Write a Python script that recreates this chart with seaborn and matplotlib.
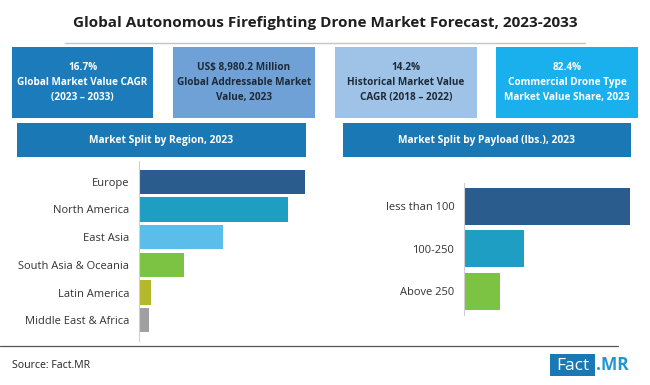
import matplotlib
matplotlib.use("Agg")
import matplotlib.pyplot as plt
import seaborn as sns
import pandas as pd
from matplotlib.patches import Rectangle
from matplotlib.lines import Line2D

# ---------------- data ----------------
title = "Global Autonomous Firefighting Drone Market Forecast, 2023-2033"

kpi_texts = [
    "16.7%\nGlobal Market Value CAGR\n(2023 \u2013 2033)",
    "US$ 8,980.2 Million\nGlobal Addressable Market\nValue, 2023",
    "14.2%\nHistorical Market Value\nCAGR (2018 \u2013 2022)",
    "82.4%\nCommercial Drone Type\nMarket Value Share, 2023",
]
kpi_colors = ["#1b7bbb", "#6fa0d6", "#9fc3e6", "#1ab0ee"]
kpi_text_colors = ["white", "#1e2a38", "#1e2a38", "white"]

region_title = "Market Split by Region, 2023"
regions = ["Europe", "North America", "East Asia", "South Asia & Oceania",
           "Latin America", "Middle East & Africa"]
region_share = [35.6, 32.0, 18.0, 9.7, 2.6, 2.1]
region_colors = ["#2a5c8e", "#1f9ec4", "#5bbde9", "#7cc243", "#b4b82b", "#a0a0a2"]

payload_title = "Market Split by Payload (lbs.), 2023"
payloads = ["less than 100", "100-250", "Above 250"]
payload_share = [63.4, 22.9, 13.7]
payload_colors = ["#2a5c8e", "#1f9ec4", "#7cc243"]

source_text = "Source: Fact.MR"

# ---------------- layout helpers ----------------
W, H = 650, 385
sns.set_theme(style="white")
plt.rcParams["font.family"] = ["Open Sans", "DejaVu Sans"]

fig = plt.figure(figsize=(W / 100, H / 100), dpi=100)
fig.patch.set_facecolor("white")


def fx(x):
    return x / W


def fy(y):
    return 1 - y / H


def rect(x0, y0, x1, y1, color):
    fig.patches.append(Rectangle((fx(x0), fy(y1)), fx(x1) - fx(x0), fy(y0) - fy(y1),
                                 transform=fig.transFigure, facecolor=color,
                                 edgecolor="none", zorder=0))


# title
fig.text(fx(325), fy(23), title, ha="center", va="center", fontsize=11,
         fontweight="bold", color="#1f1f1f")
fig.lines.append(Line2D([fx(65), fx(585)], [fy(43), fy(43)], transform=fig.transFigure,
                        color="#c4c4c4", lw=1))

# KPI boxes
box_x = [(12, 153), (173, 315), (335, 477), (496, 638)]
for (x0, x1), txt, c, tc in zip(box_x, kpi_texts, kpi_colors, kpi_text_colors):
    rect(x0, 47, x1, 118, c)
    fig.text(fx((x0 + x1) / 2), fy(82.5), txt, ha="center", va="center", fontsize=7.2,
             fontweight="bold", color=tc, linespacing=1.45)

# section headers
for (x0, x1), txt in zip([(17, 306), (343, 631)], [region_title, payload_title]):
    rect(x0, 123, x1, 157, "#1a79b4")
    fig.text(fx((x0 + x1) / 2), fy(140), txt, ha="center", va="center", fontsize=7.4,
             fontweight="bold", color="white")

# ---------------- region chart ----------------
df_r = pd.DataFrame({"region": regions, "share": region_share})
ax1 = fig.add_axes([fx(139), fy(341), fx(180), (341 - 161) / H])
sns.barplot(data=df_r, y="region", x="share", hue="region", palette=region_colors,
            order=regions, hue_order=regions, width=0.87, legend=False, ax=ax1,
            orient="h", saturation=1, linewidth=0)
ax1.set_xlim(0, 35.6 * 180 / 166)
ax1.set_ylim(5.75, -0.75)

# ---------------- payload chart ----------------
df_p = pd.DataFrame({"payload": payloads, "share": payload_share})
ax2 = fig.add_axes([fx(464), fy(314.6), fx(175), (314.6 - 183) / H])
sns.barplot(data=df_p, y="payload", x="share", hue="payload", palette=payload_colors,
            order=payloads, hue_order=payloads, width=0.87, legend=False, ax=ax2,
            orient="h", saturation=1, linewidth=0)
ax2.set_xlim(0, 63.4 * 175 / 166)
ax2.set_ylim(2.55, -0.55)

for ax in (ax1, ax2):
    ax.set_facecolor("none")
    ax.set_xlabel("")
    ax.set_ylabel("")
    ax.set_xticks([])
    for s in ("top", "right", "bottom"):
        ax.spines[s].set_visible(False)
    ax.spines["left"].set_color("#d0d0d0")
    ax.spines["left"].set_linewidth(0.8)
    ax.tick_params(axis="y", length=0, pad=7, labelsize=8, labelcolor="#333333")

# ---------------- footer ----------------
fig.lines.append(Line2D([fx(0), fx(618)], [fy(346), fy(346)], transform=fig.transFigure,
                        color="#555555", lw=0.9))
fig.text(fx(12), fy(365), source_text, ha="left", va="center", fontsize=7.6,
         color="#222222")
rect(550, 354, 595, 376, "#1a79b4")
fig.text(fx(572.5), fy(365.5), "Fact", ha="center", va="center", fontsize=12.5,
         color="white")
fig.text(fx(596), fy(365.5), ".MR", ha="left", va="center", fontsize=12.5,
         fontweight="bold", color="#1f97d4")

fig.savefig("out.png", dpi=100)
